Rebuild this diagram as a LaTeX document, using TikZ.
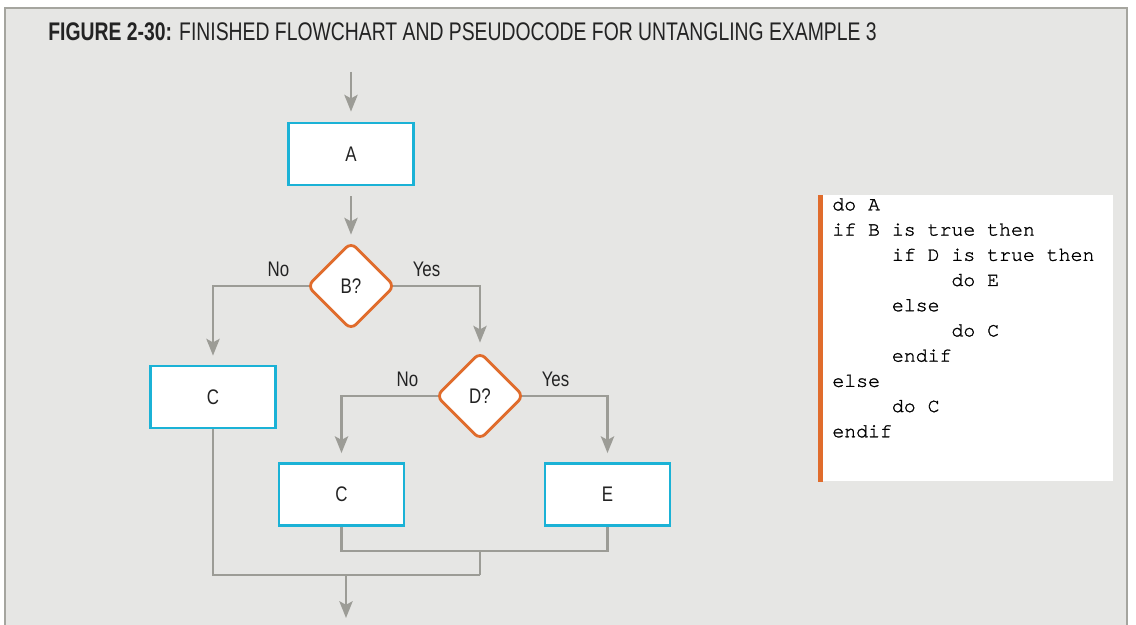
\documentclass[tikz,border=0pt]{standalone}
\usepackage{fontspec}
\setmainfont{Liberation Sans}
\newfontfamily\condfont[FakeStretch=0.8]{Liberation Sans}
\newfontfamily\titlefont[FakeStretch=0.76]{Liberation Sans}
\newfontfamily\codefont[Extension=.otf, UprightFont=*-regular, BoldFont=*-bold, FakeBold=1.3]{texgyrecursor}
\usetikzlibrary{shapes.geometric,arrows.meta,positioning,calc}
\definecolor{figbg}{RGB}{230,230,228}
\definecolor{figframe}{RGB}{165,165,159}
\definecolor{linegray}{RGB}{156,156,150}
\definecolor{mycyan}{RGB}{27,178,214}
\definecolor{myorange}{RGB}{224,108,44}
\definecolor{mytext}{RGB}{35,35,35}

\begin{document}
\begin{tikzpicture}[
      x=0.02cm, y=-0.02cm,
      box/.style={draw=mycyan, fill=white, line width=1.6pt,
                  minimum width=2.5cm, minimum height=1.24cm,
                  font=\condfont\fontsize{12}{14}\selectfont, text=mytext},
      dec/.style={diamond, aspect=1, draw=myorange, fill=white,
                  line width=1.6pt, rounded corners=4pt, inner sep=0pt,
                  minimum width=1.76cm, minimum height=1.76cm,
                  font=\condfont\fontsize{12}{14}\selectfont, text=mytext},
      lbl/.style={inner sep=0pt, node distance=0.18cm and 0.32cm,
                  font=\condfont\fontsize{12}{14}\selectfont, text=mytext},
      line/.style={draw=linegray, line width=1.5pt},
      arr/.style={line, -{Stealth[length=9.5pt, width=7.5pt, inset=2pt]}}
    ]
    \clip (0,0) rectangle (1136,625);
    \fill[white] (0,0) rectangle (1136,625);
    \draw[figframe, fill=figbg, line width=1.6pt] (5,8) rectangle (1127,640);
    \node[anchor=base west, inner sep=0pt, text=mytext,
          font=\titlefont\fontsize{14.5}{16}\selectfont] (title) at (48,41)
      {\textbf{FIGURE 2-30:} FINISHED FLOWCHART AND PSEUDOCODE FOR UNTANGLING EXAMPLE 3};

    \node[box] (a) at (351,154) {A};
    \node[dec] (b) at (351,286) {B?};
    \node[box] (c1) at (213,397) {C};
    \node[dec] (d) at (480,396) {D?};
    \node[box] (c2) at (341.5,494.5) {C};
    \node[box] (e) at (607.5,494.5) {E};

    \node[lbl, above left=of b.west] (bno) {No};
    \node[lbl, above right=of b.east] (byes) {Yes};
    \node[lbl, above left=of d.west] (dno) {No};
    \node[lbl, above right=of d.east] (dyes) {Yes};

    \coordinate (entry) at (351,72);
    \coordinate (m1) at (480,551);
    \coordinate (m2) at (480,575);
    \coordinate (m3) at (346,575);
    \coordinate (exit) at (346,618);

    \draw[arr, shorten >=0.2cm] (entry) -- (a);
    \draw[arr, shorten <=0.2cm, shorten >=0.12cm] (a) -- (b);
    \draw[arr, shorten <=-2pt, shorten >=0.18cm] (b.west) -| (c1.north);
    \draw[arr, shorten <=-2pt, shorten >=0.16cm] (b.east) -| (d.north);
    \draw[arr, shorten <=-2pt, shorten >=0.18cm] (d.west) -| (c2.north);
    \draw[arr, shorten <=-2pt, shorten >=0.18cm] (d.east) -| (e.north);
    \draw[line] (c2.south) |- (m1) -| (e.south);
    \draw[line] (m1) -- (m2);
    \draw[line] (c1.south) |- (m2);
    \draw[arr] (m3) -- (exit);

    \node[fill=white, minimum width=5.9cm, minimum height=5.72cm,
          anchor=north west, inner sep=0pt] (code) at (818,195) {};
    \fill[myorange] (code.north west) rectangle ([xshift=0.1cm]code.south west);
    \node[anchor=north west, inner sep=0pt, align=left, text=black,
          font=\codefont\fontsize{11.3}{14.35}\selectfont] (pseudo) at (832,198)
      {do A\\
       if B is true then\\
       ~~~~~if D is true then\\
       ~~~~~~~~~~do E\\
       ~~~~~else\\
       ~~~~~~~~~~do C\\
       ~~~~~endif\\
       else\\
       ~~~~~do C\\
       endif};
  \end{tikzpicture}
\end{document}
